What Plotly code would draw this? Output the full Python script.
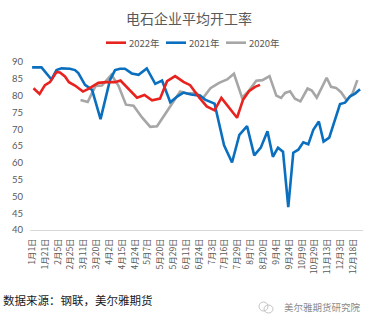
import plotly.graph_objects as go

# Category labels shown along the date axis (one every label step)
tick_labels = ["1月1日", "1月21日", "2月5日", "2月25日", "3月11日", "3月20日",
               "4月2日", "4月15日", "4月24日", "5月7日", "5月20日", "5月29日",
               "6月11日", "6月24日", "7月3日", "7月16日", "7月29日", "8月7日",
               "8月20日", "9月4日", "9月24日", "10月9日", "10月29日", "11月13日",
               "12月3日", "12月18日"]

# Positions are expressed in label steps along the axis; values in %
x_2022 = [0.11, 0.58, 1.00, 1.39, 1.90, 2.17, 2.56, 2.87, 3.34, 3.96,
          4.35, 4.74, 5.16, 5.76, 6.46, 6.88, 7.55, 8.17, 8.75, 9.34,
          9.96, 10.51, 11.14, 11.79, 12.31, 13.04, 13.60, 14.21, 14.74, 15.38,
          15.96, 16.43, 16.89, 17.36, 17.75]
y_2022 = [82.2, 80.5, 83.1, 84.0, 87.0, 86.9, 85.7, 84.0, 83.0, 81.2,
          81.9, 82.8, 83.8, 84.0, 84.0, 84.5, 81.8, 79.4, 80.2, 78.6,
          79.1, 84.3, 85.8, 84.1, 83.1, 79.3, 76.8, 75.6, 79.3, 76.2,
          73.4, 78.8, 81.3, 82.6, 83.2]

x_2021 = [0.00, 0.73, 1.51, 1.90, 2.29, 2.95, 3.34, 3.60, 4.12, 4.67,
          5.33, 6.07, 6.46, 6.85, 7.23, 7.76, 8.29, 8.93, 9.59, 10.12,
          10.76, 11.32, 11.79, 12.38, 13.08, 13.47, 14.21, 14.95, 15.57, 16.14,
          16.74, 17.30, 17.81, 18.33, 18.75, 19.15, 19.54, 19.95, 20.34, 20.73,
          21.12, 21.51, 21.90, 22.33, 22.70, 23.14, 23.98, 24.37, 24.77, 25.15,
          25.54]
y_2021 = [88.4, 88.4, 84.8, 87.6, 88.1, 88.0, 87.6, 86.7, 83.2, 81.7,
          73.0, 84.7, 87.6, 88.0, 88.0, 86.6, 86.2, 88.1, 83.5, 84.5,
          78.0, 79.8, 80.9, 80.3, 80.0, 78.8, 77.6, 65.2, 60.1, 68.3,
          70.9, 62.2, 64.5, 69.4, 61.8, 64.5, 63.3, 46.8, 63.0, 63.9,
          66.1, 65.5, 69.8, 72.3, 66.3, 67.5, 77.5, 77.9, 79.8, 80.6,
          81.9]

x_2020 = [3.77, 4.33, 4.94, 5.44, 6.18, 6.73, 7.31, 7.90, 8.56, 9.20,
          9.73, 10.31, 10.90, 11.53, 12.10, 12.76, 13.31, 13.89, 14.56, 15.19,
          15.72, 16.35, 16.89, 17.46, 17.94, 18.49, 19.02, 19.39, 19.70, 20.09,
          20.47, 20.90, 21.45, 21.78, 22.17, 22.94, 23.28, 23.67, 24.06, 24.50,
          24.95, 25.33]
y_2020 = [78.7, 78.1, 82.9, 83.0, 86.2, 82.9, 77.3, 77.0, 73.5, 70.7,
          70.9, 74.2, 77.8, 81.2, 80.6, 80.8, 79.3, 82.2, 83.8, 84.8,
          86.5, 79.4, 81.5, 84.4, 84.6, 85.8, 80.0, 79.3, 80.8, 81.3,
          79.1, 78.3, 82.1, 81.5, 79.4, 85.3, 82.6, 82.3, 81.0, 78.6,
          80.6, 84.6]

y_ticks = [40, 45, 50, 55, 60, 65, 70, 75, 80, 85, 90]

series = [
    ("2022年", x_2022, y_2022, "#E8221E"),
    ("2021年", x_2021, y_2021, "#0A6FBE"),
    ("2020年", x_2020, y_2020, "#A6A6A6"),
]

W, H = 375, 327
ML, MR, MT, MB = 30, 12, 62, 97
PW, PH = W - ML - MR, H - MT - MB


def px(x):
    return (x - ML) / PW


def py(y):
    return (H - MB - y) / PH


fig = go.Figure()
# draw grey first so the newer years sit on top
for name, xs, ys, color in reversed(series):
    fig.add_trace(go.Scatter(
        x=xs, y=ys, mode="lines", name=name,
        line=dict(color=color, width=2.6),
        showlegend=False, hoverinfo="skip",
    ))

txt = "#595959"
cjk = "Noto Sans CJK SC"

annotations = [
    dict(text="电石企业平均开工率", x=px(189), y=py(18), xref="paper", yref="paper",
         showarrow=False, xanchor="center", yanchor="middle",
         font=dict(family=cjk, size=14, color=txt)),
    dict(text="数据来源：钢联，美尔雅期货", x=px(1), y=py(300), xref="paper", yref="paper",
         showarrow=False, xanchor="left", yanchor="middle",
         font=dict(family=cjk, size=11.5, color="#1a1a1a")),
    dict(text="美尔雅期货研究院", x=px(282), y=py(307), xref="paper", yref="paper",
         showarrow=False, xanchor="left", yanchor="middle",
         font=dict(family=cjk, size=9.5, color="#8c8c8c")),
]

shapes = []
# legend: short line sample followed by the series name
leg_x = [106, 166, 226]
for (name, _, _, color), lx in zip(series, leg_x):
    shapes.append(dict(type="line", xref="paper", yref="paper",
                       x0=px(lx), x1=px(lx + 20), y0=py(42.7), y1=py(42.7),
                       line=dict(color=color, width=2.6)))
    annotations.append(dict(text=name, x=px(lx + 21), y=py(42.7), xref="paper",
                            yref="paper", showarrow=False, xanchor="left",
                            yanchor="middle",
                            font=dict(family=cjk, size=9.5, color=txt)))

# small chat-bubble badge in front of the institute name
shapes.append(dict(type="circle", xref="paper", yref="paper",
                   x0=px(259), x1=px(268), y0=py(311), y1=py(302),
                   line=dict(color="#b5b5b5", width=0.8)))
shapes.append(dict(type="circle", xref="paper", yref="paper",
                   x0=px(264), x1=px(273), y0=py(313), y1=py(305),
                   line=dict(color="#b5b5b5", width=0.8)))

fig.update_layout(
    width=W, height=H,
    margin=dict(l=ML, r=MR, t=MT, b=MB),
    paper_bgcolor="white", plot_bgcolor="white",
    annotations=annotations, shapes=shapes,
    xaxis=dict(
        range=[-0.164, 25.77], tickmode="array",
        tickvals=list(range(len(tick_labels))), ticktext=tick_labels,
        tickangle=-90, ticks="", showgrid=False, zeroline=False,
        showline=True, linecolor="#D9D9D9", linewidth=1,
        tickfont=dict(family=cjk, size=8.5, color=txt),
        ticklabelstandoff=4,
    ),
    yaxis=dict(
        range=[40, 90], tickmode="array", tickvals=y_ticks,
        ticks="", showgrid=False, zeroline=False, showline=False,
        tickfont=dict(family="Lato", size=9.5, color=txt),
        ticklabelstandoff=6,
    ),
)

fig.write_html("out.html")
